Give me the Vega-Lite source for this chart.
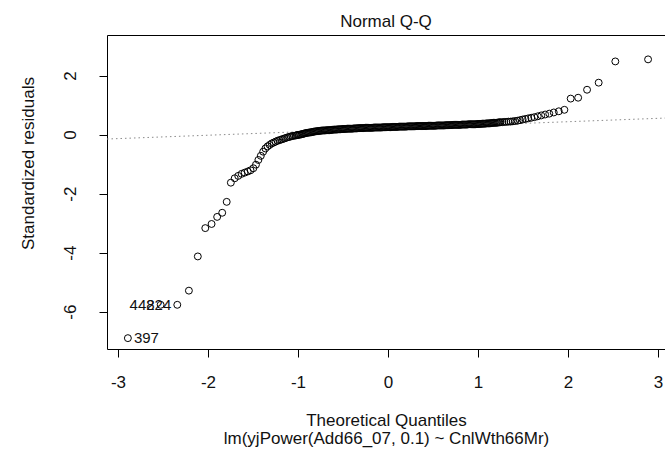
{
  "$schema": "https://vega.github.io/schema/vega-lite/v6.json",
  "width": 558,
  "height": 314,
  "autosize": {"type": "none"},
  "padding": {"left": 107, "top": 35, "right": 0, "bottom": 111},
  "background": "white",
  "config": {
    "view": {"stroke": "#000", "strokeWidth": 1},
    "font": "Liberation Sans"
  },
  "title": {
    "text": "Normal Q-Q",
    "font": "Liberation Sans",
    "fontSize": 17,
    "fontWeight": "normal",
    "color": "#111",
    "anchor": "middle",
    "frame": "group",
    "baseline": "alphabetic",
    "offset": 10,
    "dy": 19
  },
  "datasets": {
    "pts": [
      {"x": -2.890, "y": -6.90, "lab": "397"},
      {"x": -2.526, "y": -5.77, "lab": "448"},
      {"x": -2.341, "y": -5.77, "lab": "224"},
      {"x": -2.212, "y": -5.29},
      {"x": -2.113, "y": -4.13},
      {"x": -2.030, "y": -3.17},
      {"x": -1.960, "y": -3.03},
      {"x": -1.898, "y": -2.79},
      {"x": -1.842, "y": -2.65},
      {"x": -1.792, "y": -2.28},
      {"x": -1.746, "y": -1.63},
      {"x": -1.703, "y": -1.48},
      {"x": -1.664, "y": -1.40},
      {"x": -1.626, "y": -1.33},
      {"x": -1.592, "y": -1.29},
      {"x": -1.558, "y": -1.25},
      {"x": -1.527, "y": -1.21},
      {"x": -1.496, "y": -1.14},
      {"x": -1.467, "y": -1.02},
      {"x": -1.440, "y": -0.86},
      {"x": -1.413, "y": -0.72},
      {"x": -1.387, "y": -0.58},
      {"x": -1.362, "y": -0.47},
      {"x": -1.338, "y": -0.40},
      {"x": -1.315, "y": -0.35},
      {"x": -1.292, "y": -0.30},
      {"x": -1.270, "y": -0.27},
      {"x": -1.249, "y": -0.24},
      {"x": -1.228, "y": -0.21},
      {"x": -1.208, "y": -0.19},
      {"x": -1.188, "y": -0.17},
      {"x": -1.169, "y": -0.15},
      {"x": -1.150, "y": -0.13},
      {"x": -1.131, "y": -0.11},
      {"x": -1.113, "y": -0.09},
      {"x": -1.096, "y": -0.08},
      {"x": -1.079, "y": -0.06},
      {"x": -1.062, "y": -0.05},
      {"x": -1.045, "y": -0.04},
      {"x": -1.025, "y": -0.03},
      {"x": -1.0125, "y": -0.02},
      {"x": -1.000, "y": -0.01},
      {"x": -0.9875, "y": -0.005},
      {"x": -0.975, "y": 0.00},
      {"x": -0.9625, "y": 0.01},
      {"x": -0.950, "y": 0.02},
      {"x": -0.9375, "y": 0.03},
      {"x": -0.925, "y": 0.04},
      {"x": -0.9125, "y": 0.05},
      {"x": -0.900, "y": 0.06},
      {"x": -0.8875, "y": 0.065},
      {"x": -0.875, "y": 0.07},
      {"x": -0.8625, "y": 0.075},
      {"x": -0.850, "y": 0.08},
      {"x": -0.8375, "y": 0.09},
      {"x": -0.825, "y": 0.10},
      {"x": -0.8125, "y": 0.105},
      {"x": -0.800, "y": 0.11},
      {"x": -0.7875, "y": 0.115},
      {"x": -0.775, "y": 0.12},
      {"x": -0.7625, "y": 0.125},
      {"x": -0.750, "y": 0.13},
      {"x": -0.7375, "y": 0.135},
      {"x": -0.725, "y": 0.14},
      {"x": -0.7125, "y": 0.14},
      {"x": -0.700, "y": 0.14},
      {"x": -0.6875, "y": 0.145},
      {"x": -0.675, "y": 0.15},
      {"x": -0.6625, "y": 0.15},
      {"x": -0.650, "y": 0.15},
      {"x": -0.6375, "y": 0.155},
      {"x": -0.625, "y": 0.16},
      {"x": -0.6125, "y": 0.165},
      {"x": -0.600, "y": 0.17},
      {"x": -0.5875, "y": 0.17},
      {"x": -0.575, "y": 0.17},
      {"x": -0.5625, "y": 0.175},
      {"x": -0.550, "y": 0.18},
      {"x": -0.5375, "y": 0.18},
      {"x": -0.525, "y": 0.18},
      {"x": -0.5125, "y": 0.185},
      {"x": -0.500, "y": 0.19},
      {"x": -0.4875, "y": 0.19},
      {"x": -0.475, "y": 0.19},
      {"x": -0.4625, "y": 0.195},
      {"x": -0.450, "y": 0.20},
      {"x": -0.4375, "y": 0.20},
      {"x": -0.425, "y": 0.20},
      {"x": -0.4125, "y": 0.20},
      {"x": -0.400, "y": 0.20},
      {"x": -0.3875, "y": 0.205},
      {"x": -0.375, "y": 0.21},
      {"x": -0.3625, "y": 0.21},
      {"x": -0.350, "y": 0.21},
      {"x": -0.3375, "y": 0.215},
      {"x": -0.325, "y": 0.22},
      {"x": -0.3125, "y": 0.22},
      {"x": -0.300, "y": 0.22},
      {"x": -0.2875, "y": 0.22},
      {"x": -0.275, "y": 0.22},
      {"x": -0.2625, "y": 0.225},
      {"x": -0.250, "y": 0.23},
      {"x": -0.2375, "y": 0.23},
      {"x": -0.225, "y": 0.23},
      {"x": -0.2125, "y": 0.23},
      {"x": -0.200, "y": 0.23},
      {"x": -0.1875, "y": 0.23},
      {"x": -0.175, "y": 0.23},
      {"x": -0.1625, "y": 0.235},
      {"x": -0.150, "y": 0.24},
      {"x": -0.1375, "y": 0.24},
      {"x": -0.125, "y": 0.24},
      {"x": -0.1125, "y": 0.24},
      {"x": -0.100, "y": 0.24},
      {"x": -0.0875, "y": 0.24},
      {"x": -0.075, "y": 0.24},
      {"x": -0.0625, "y": 0.245},
      {"x": -0.050, "y": 0.25},
      {"x": -0.0375, "y": 0.25},
      {"x": -0.025, "y": 0.25},
      {"x": -0.0125, "y": 0.25},
      {"x": 0.000, "y": 0.25},
      {"x": 0.0125, "y": 0.25},
      {"x": 0.025, "y": 0.25},
      {"x": 0.0375, "y": 0.255},
      {"x": 0.050, "y": 0.26},
      {"x": 0.0625, "y": 0.26},
      {"x": 0.075, "y": 0.26},
      {"x": 0.0875, "y": 0.26},
      {"x": 0.100, "y": 0.26},
      {"x": 0.1125, "y": 0.265},
      {"x": 0.125, "y": 0.27},
      {"x": 0.1375, "y": 0.27},
      {"x": 0.150, "y": 0.27},
      {"x": 0.1625, "y": 0.27},
      {"x": 0.175, "y": 0.27},
      {"x": 0.1875, "y": 0.27},
      {"x": 0.200, "y": 0.27},
      {"x": 0.2125, "y": 0.275},
      {"x": 0.225, "y": 0.28},
      {"x": 0.2375, "y": 0.28},
      {"x": 0.250, "y": 0.28},
      {"x": 0.2625, "y": 0.28},
      {"x": 0.275, "y": 0.28},
      {"x": 0.2875, "y": 0.28},
      {"x": 0.300, "y": 0.28},
      {"x": 0.3125, "y": 0.285},
      {"x": 0.325, "y": 0.29},
      {"x": 0.3375, "y": 0.29},
      {"x": 0.350, "y": 0.29},
      {"x": 0.3625, "y": 0.29},
      {"x": 0.375, "y": 0.29},
      {"x": 0.3875, "y": 0.29},
      {"x": 0.400, "y": 0.29},
      {"x": 0.4125, "y": 0.29},
      {"x": 0.425, "y": 0.29},
      {"x": 0.4375, "y": 0.295},
      {"x": 0.450, "y": 0.30},
      {"x": 0.4625, "y": 0.30},
      {"x": 0.475, "y": 0.30},
      {"x": 0.4875, "y": 0.30},
      {"x": 0.500, "y": 0.30},
      {"x": 0.5125, "y": 0.30},
      {"x": 0.525, "y": 0.30},
      {"x": 0.5375, "y": 0.305},
      {"x": 0.550, "y": 0.31},
      {"x": 0.5625, "y": 0.31},
      {"x": 0.575, "y": 0.31},
      {"x": 0.5875, "y": 0.31},
      {"x": 0.600, "y": 0.31},
      {"x": 0.6125, "y": 0.31},
      {"x": 0.625, "y": 0.31},
      {"x": 0.6375, "y": 0.315},
      {"x": 0.650, "y": 0.32},
      {"x": 0.6625, "y": 0.32},
      {"x": 0.675, "y": 0.32},
      {"x": 0.6875, "y": 0.32},
      {"x": 0.700, "y": 0.32},
      {"x": 0.7125, "y": 0.325},
      {"x": 0.725, "y": 0.33},
      {"x": 0.7375, "y": 0.33},
      {"x": 0.750, "y": 0.33},
      {"x": 0.7625, "y": 0.33},
      {"x": 0.775, "y": 0.33},
      {"x": 0.7875, "y": 0.33},
      {"x": 0.800, "y": 0.33},
      {"x": 0.8125, "y": 0.335},
      {"x": 0.825, "y": 0.34},
      {"x": 0.8375, "y": 0.34},
      {"x": 0.850, "y": 0.34},
      {"x": 0.8625, "y": 0.34},
      {"x": 0.875, "y": 0.34},
      {"x": 0.8875, "y": 0.345},
      {"x": 0.900, "y": 0.35},
      {"x": 0.9125, "y": 0.35},
      {"x": 0.925, "y": 0.35},
      {"x": 0.9375, "y": 0.35},
      {"x": 0.950, "y": 0.35},
      {"x": 0.9625, "y": 0.35},
      {"x": 0.975, "y": 0.35},
      {"x": 0.9875, "y": 0.355},
      {"x": 1.000, "y": 0.36},
      {"x": 1.0125, "y": 0.36},
      {"x": 1.025, "y": 0.36},
      {"x": 1.0375, "y": 0.365},
      {"x": 1.050, "y": 0.37},
      {"x": 1.0625, "y": 0.37},
      {"x": 1.075, "y": 0.37},
      {"x": 1.0875, "y": 0.375},
      {"x": 1.100, "y": 0.38},
      {"x": 1.1125, "y": 0.38},
      {"x": 1.125, "y": 0.38},
      {"x": 1.1375, "y": 0.385},
      {"x": 1.150, "y": 0.39},
      {"x": 1.1625, "y": 0.395},
      {"x": 1.175, "y": 0.40},
      {"x": 1.1875, "y": 0.40},
      {"x": 1.200, "y": 0.40},
      {"x": 1.2125, "y": 0.405},
      {"x": 1.225, "y": 0.41},
      {"x": 1.2375, "y": 0.415},
      {"x": 1.249, "y": 0.42},
      {"x": 1.270, "y": 0.42},
      {"x": 1.292, "y": 0.43},
      {"x": 1.315, "y": 0.43},
      {"x": 1.338, "y": 0.44},
      {"x": 1.362, "y": 0.44},
      {"x": 1.387, "y": 0.45},
      {"x": 1.413, "y": 0.46},
      {"x": 1.440, "y": 0.47},
      {"x": 1.467, "y": 0.49},
      {"x": 1.496, "y": 0.51},
      {"x": 1.527, "y": 0.53},
      {"x": 1.558, "y": 0.55},
      {"x": 1.592, "y": 0.57},
      {"x": 1.626, "y": 0.59},
      {"x": 1.664, "y": 0.62},
      {"x": 1.703, "y": 0.65},
      {"x": 1.746, "y": 0.68},
      {"x": 1.792, "y": 0.71},
      {"x": 1.842, "y": 0.75},
      {"x": 1.898, "y": 0.79},
      {"x": 1.960, "y": 0.84},
      {"x": 2.030, "y": 1.22},
      {"x": 2.113, "y": 1.25},
      {"x": 2.212, "y": 1.52},
      {"x": 2.341, "y": 1.76},
      {"x": 2.526, "y": 2.48},
      {"x": 2.890, "y": 2.55}
    ],
    "qqline": [
      {"x": -3.122, "y": -0.15},
      {"x": 3.078, "y": 0.56}
    ]
  },
  "encoding": {
    "x": {
      "field": "x",
      "type": "quantitative",
      "scale": {"domain": [-3.122, 3.078], "nice": false, "zero": false},
      "axis": {
        "values": [-3, -2, -1, 0, 1, 2, 3],
        "labelExpr": "toString(datum.value)",
        "grid": false,
        "domain": false,
        "tickSize": 8,
        "tickColor": "#000",
        "tickWidth": 1,
        "labelFont": "Liberation Sans",
        "labelFontSize": 17,
        "labelColor": "#111",
        "labelPadding": 17,
        "labelFlush": false,
        "labelOverlap": false,
        "title": ["Theoretical Quantiles", "lm(yjPower(Add66_07, 0.1) ~ CnlWth66Mr)"],
        "titleFont": "Liberation Sans",
        "titleFontSize": 17,
        "titleFontWeight": "normal",
        "titleColor": "#111",
        "titleLineHeight": 18,
        "titleBaseline": "top",
        "titleY": 63
      }
    },
    "y": {
      "field": "y",
      "type": "quantitative",
      "scale": {"domain": [-7.268, 3.376], "nice": false, "zero": false},
      "axis": {
        "values": [-6, -4, -2, 0, 2],
        "labelExpr": "toString(datum.value)",
        "grid": false,
        "domain": false,
        "tickSize": 8,
        "tickColor": "#000",
        "tickWidth": 1,
        "labelFont": "Liberation Sans",
        "labelFontSize": 17,
        "labelColor": "#111",
        "labelAngle": 270,
        "labelAlign": "center",
        "labelBaseline": "alphabetic",
        "labelPadding": 24,
        "labelOverlap": false,
        "labelFlush": false,
        "title": "Standardized residuals",
        "titleFont": "Liberation Sans",
        "titleFontSize": 17,
        "titleFontWeight": "normal",
        "titleColor": "#111",
        "titleAngle": 270,
        "titleAlign": "center",
        "titleBaseline": "alphabetic",
        "titleX": -74,
        "titleY": 128
      }
    }
  },
  "layer": [
    {
      "data": {"name": "qqline"},
      "mark": {"type": "line", "color": "#8a8a8a", "strokeWidth": 1, "strokeDash": [1.5, 3], "clip": true}
    },
    {
      "data": {"name": "pts"},
      "mark": {"type": "point", "shape": "circle", "filled": false, "stroke": "#000", "strokeWidth": 1, "size": 48, "opacity": 1}
    },
    {
      "data": {"name": "pts"},
      "transform": [{"filter": "datum.lab && datum.x < -2.7"}],
      "mark": {"type": "text", "align": "left", "baseline": "middle", "dx": 6, "font": "Liberation Sans", "fontSize": 15, "color": "#111"},
      "encoding": {"text": {"field": "lab", "type": "nominal"}}
    },
    {
      "data": {"name": "pts"},
      "transform": [{"filter": "datum.lab && datum.x >= -2.7"}],
      "mark": {"type": "text", "align": "right", "baseline": "middle", "dx": -6, "font": "Liberation Sans", "fontSize": 15, "color": "#111"},
      "encoding": {"text": {"field": "lab", "type": "nominal"}}
    }
  ]
}
